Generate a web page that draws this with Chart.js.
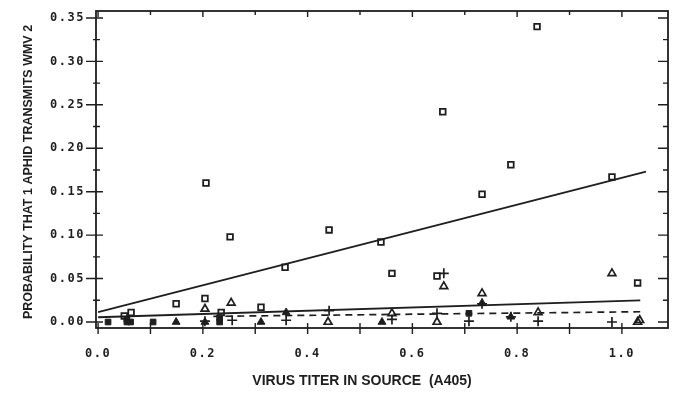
<!DOCTYPE html>
<html>
<head>
<meta charset="utf-8">
<script src="https://cdn.jsdelivr.net/npm/chart.js@4.4.0/dist/chart.umd.min.js"></script>
<style>
  html, body { margin: 0; padding: 0; background: #fff; }
  #wrap { width: 678px; height: 396px; }
</style>
</head>
<body>
<div id="wrap"><canvas id="chart1"></canvas></div>
<script>
// open squares
const squareX = [0.050, 0.063, 0.149, 0.204, 0.206, 0.235, 0.252, 0.311, 0.357, 0.441, 0.540, 0.561, 0.647, 0.658, 0.733, 0.788, 0.838, 0.981, 1.030];
const squareY = [0.007, 0.011, 0.021, 0.027, 0.160, 0.011, 0.098, 0.017, 0.063, 0.106, 0.092, 0.056, 0.053, 0.242, 0.147, 0.181, 0.340, 0.167, 0.045];

// open triangles
const triX = [0.204, 0.254, 0.439, 0.561, 0.647, 0.660, 0.733, 0.840, 0.981, 1.030, 1.034];
const triY = [0.015, 0.022, 0.000, 0.010, 0.000, 0.041, 0.033, 0.011, 0.056, 0.000, 0.002];

// plus signs
const plusX = [0.204, 0.256, 0.359, 0.441, 0.561, 0.647, 0.660, 0.708, 0.733, 0.788, 0.840, 0.981];
const plusY = [0.001, 0.002, 0.002, 0.013, 0.003, 0.010, 0.056, 0.001, 0.021, 0.006, 0.001, 0.000];

// filled squares / filled triangles (overlapping points)
const fillSqX = [0.019, 0.055, 0.055, 0.062, 0.105, 0.232, 0.232, 0.708];
const fillSqY = [0.000, 0.000, 0.003, 0.000, 0.000, 0.000, 0.005, 0.010];
const fillTriX = [0.149, 0.204, 0.311, 0.359, 0.542, 0.733, 0.788];
const fillTriY = [0.000, 0.000, 0.000, 0.011, 0.000, 0.022, 0.006];

// fitted lines (end points)
const fitSqX = [0.0, 1.046];
const fitSqY = [0.0115, 0.173];
const fitLowX = [0.0, 1.035];
const fitLowY = [0.0055, 0.025];
const fitDashX = [0.22, 1.035];
const fitDashY = [0.0065, 0.0118];

const xTicks = [0, 0.2, 0.4, 0.6, 0.8, 1.0];
const yTicks = [0, 0.05, 0.10, 0.15, 0.20, 0.25, 0.30, 0.35];

const ink = '#1e1e1e';
const pts = (xs, ys) => xs.map((x, i) => ({x: x, y: ys[i]}));

// frame, inner ticks and axis titles
const framePlugin = {
    id: 'frame',
    beforeDraw(chart) {
        chart.ctx.letterSpacing = '1.5px';
    },
    beforeDatasetsDraw(chart) {
        const ctx = chart.ctx;
        const a = chart.chartArea;
        const xs = chart.scales.x, ys = chart.scales.y;
        ctx.save();
        ctx.letterSpacing = '0px';
        ctx.strokeStyle = ink;
        ctx.lineWidth = 1.8;
        ctx.strokeRect(a.left, a.top, a.right - a.left, a.bottom - a.top);
        ctx.lineWidth = 1.4;
        ctx.beginPath();
        for (let i = 0; i <= 10; i++) {
            const px = xs.getPixelForValue(i / 10);
            const major = i % 2 === 0;
            ctx.moveTo(px, a.bottom - 5);
            ctx.lineTo(px, a.bottom + 6);
            ctx.moveTo(px, a.top);
            ctx.lineTo(px, a.top + (major ? 6 : 4));
        }
        for (let i = 0; i <= 14; i++) {
            const py = ys.getPixelForValue(i * 0.025);
            const major = i % 2 === 0;
            ctx.moveTo(a.left - (major ? 10 : 3), py);
            ctx.lineTo(a.left + (major ? 7 : 4), py);
            ctx.moveTo(a.right - (major ? 10 : 5), py);
            ctx.lineTo(a.right, py);
        }
        ctx.stroke();
        ctx.restore();
    },
    afterDraw(chart) {
        const ctx = chart.ctx;
        ctx.save();
        ctx.letterSpacing = '0px';
        ctx.fillStyle = ink;
        ctx.textAlign = 'center';
        ctx.textBaseline = 'middle';
        ctx.font = 'bold 14px "Liberation Sans", Arial, sans-serif';
        ctx.fillText('VIRUS TITER IN SOURCE  (A405)', 362, 381);
        ctx.translate(29, 172);
        ctx.rotate(-Math.PI / 2);
        ctx.font = 'bold 12.5px "Liberation Sans", Arial, sans-serif';
        ctx.fillText('PROBABILITY THAT 1 APHID TRANSMITS WMV 2', 0, 0);
        ctx.restore();
    }
};

const tickFont = {family: '"DejaVu Sans Mono", monospace', size: 12, weight: 'bold'};

new Chart(document.querySelector('#chart1'), {
    type: 'scatter',
    data: {
        datasets: [
            {data: pts(squareX, squareY), pointStyle: 'rect', pointRadius: 4, borderWidth: 1.8, borderColor: ink, backgroundColor: 'rgba(255,255,255,0)'},
            {data: pts(triX, triY), pointStyle: 'triangle', pointRadius: 4.5, borderWidth: 1.7, borderColor: ink, backgroundColor: 'rgba(255,255,255,0)'},
            {data: pts(plusX, plusY), pointStyle: 'cross', pointRadius: 5, borderWidth: 1.7, borderColor: ink},
            {data: pts(fillSqX, fillSqY), pointStyle: 'rect', pointRadius: 4, borderWidth: 1, borderColor: ink, backgroundColor: ink},
            {data: pts(fillTriX, fillTriY), pointStyle: 'triangle', pointRadius: 4.5, borderWidth: 1, borderColor: ink, backgroundColor: ink},
            {data: pts(fitSqX, fitSqY), showLine: true, pointRadius: 0, borderWidth: 1.8, borderColor: ink},
            {data: pts(fitLowX, fitLowY), showLine: true, pointRadius: 0, borderWidth: 1.8, borderColor: ink},
            {data: pts(fitDashX, fitDashY), showLine: true, pointRadius: 0, borderWidth: 1.7, borderColor: ink, borderDash: [7, 5]}
        ]
    },
    options: {
        responsive: true,
        maintainAspectRatio: false,
        animation: false,
        layout: {padding: {left: 0, top: 11, right: 10, bottom: 0}},
        plugins: {
            legend: {display: false},
            tooltip: {enabled: false}
        },
        scales: {
            x: {
                type: 'linear',
                min: -0.004,
                max: 1.088,
                grid: {display: false},
                border: {display: false},
                afterBuildTicks: (scale) => { scale.ticks = xTicks.map(v => ({value: v})); },
                afterFit: (scale) => { scale.height = 68; },
                ticks: {
                    color: ink,
                    font: tickFont,
                    padding: 11,
                    maxRotation: 0,
                    callback: (v) => Number(v).toFixed(1)
                }
            },
            y: {
                type: 'linear',
                min: -0.0069,
                max: 0.358,
                grid: {display: false},
                border: {display: false},
                afterBuildTicks: (scale) => { scale.ticks = yTicks.map(v => ({value: v})); },
                afterFit: (scale) => { scale.width = 96; },
                ticks: {
                    color: ink,
                    font: tickFont,
                    padding: 3,
                    callback: (v) => Number(v).toFixed(2)
                }
            }
        }
    },
    plugins: [framePlugin]
});
</script>
</body>
</html>
